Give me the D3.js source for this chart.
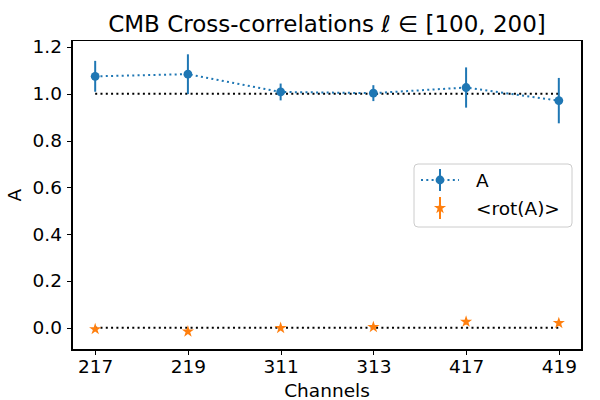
<!DOCTYPE html>
<html>
<head>
    <script src="https://d3js.org/d3.v7.min.js"></script>
    <style type="text/css">
        body { margin: 0; background: white; font-family: "DejaVu Sans", sans-serif; }
        .axis path, .axis line { stroke: black; shape-rendering: crispEdges; }
        .axis text { font-family: "DejaVu Sans", sans-serif; font-size: 18.5px; fill: #000; }
    </style>
</head>
<body>
    <svg width="600" height="400" id="chart"></svg>
    <script>
        // channels on the x axis
        var channels = ["217", "219", "311", "313", "417", "419"];
        // A with its error bars
        var aValues = [1.075, 1.084, 1.008, 1.003, 1.027, 0.971];
        var aErrors = [0.066, 0.085, 0.036, 0.034, 0.086, 0.097];
        // <rot(A)> with its error bars
        var rotValues = [-0.006, -0.016, -0.001, 0.003, 0.026, 0.020];
        var rotErrors = [0.008, 0.008, 0.006, 0.007, 0.012, 0.012];
        var yTicks = [0.0, 0.2, 0.4, 0.6, 0.8, 1.0, 1.2];
        var refLevels = [1.0, 0.0];

        var blue = "#1f77b4", orange = "#ff7f0e";
        var margin = { top: 40.5, right: 18, bottom: 50, left: 72 },
            width = 600 - margin.left - margin.right,
            height = 400 - margin.top - margin.bottom;

        var svg = d3.select("#chart")
            .append("g")
            .attr("transform", "translate(" + margin.left + "," + margin.top + ")");

        var xScale = d3.scalePoint().domain(channels).range([0, width]).padding(0.25);
        var yScale = d3.scaleLinear().domain([-0.095, 1.228]).range([height, 0]);

        // reference levels at 1 and 0
        refLevels.forEach(function(v) {
            svg.append("line")
                .attr("x1", xScale(channels[0]))
                .attr("x2", xScale(channels[channels.length - 1]))
                .attr("y1", yScale(v)).attr("y2", yScale(v))
                .attr("stroke", "black")
                .attr("stroke-width", 2)
                .attr("stroke-dasharray", "2,3.3");
        });

        var aData = channels.map(function(c, i) { return { c: c, v: aValues[i], e: aErrors[i] }; });
        var rotData = channels.map(function(c, i) { return { c: c, v: rotValues[i], e: rotErrors[i] }; });

        // dotted line joining the A points
        svg.append("path")
            .datum(aData)
            .attr("fill", "none")
            .attr("stroke", blue)
            .attr("stroke-width", 2)
            .attr("stroke-dasharray", "2,3.3")
            .attr("d", d3.line()
                .x(function(d) { return xScale(d.c); })
                .y(function(d) { return yScale(d.v); }));

        function errorBars(data, color) {
            svg.selectAll(null)
                .data(data)
                .enter()
                .append("line")
                    .attr("x1", function(d) { return xScale(d.c); })
                    .attr("x2", function(d) { return xScale(d.c); })
                    .attr("y1", function(d) { return yScale(d.v - d.e); })
                    .attr("y2", function(d) { return yScale(d.v + d.e); })
                    .attr("stroke", color)
                    .attr("stroke-width", 2);
        }
        errorBars(aData, blue);
        errorBars(rotData, orange);

        svg.selectAll("circle.a")
            .data(aData)
            .enter()
            .append("circle")
                .attr("class", "a")
                .attr("cx", function(d) { return xScale(d.c); })
                .attr("cy", function(d) { return yScale(d.v); })
                .attr("r", 4.4)
                .attr("fill", blue);

        var star = d3.symbol().type(d3.symbolStar).size(46);
        svg.selectAll("path.rot")
            .data(rotData)
            .enter()
            .append("path")
                .attr("class", "rot")
                .attr("d", star)
                .attr("transform", function(d) { return "translate(" + xScale(d.c) + "," + yScale(d.v) + ")"; })
                .attr("fill", orange);

        // axes
        svg.append("g")
            .attr("class", "axis")
            .attr("transform", "translate(0," + height + ")")
            .call(d3.axisBottom(xScale).tickSizeOuter(0).tickSize(5).tickPadding(5))
            .select(".domain").remove();

        svg.append("g")
            .attr("class", "axis")
            .call(d3.axisLeft(yScale).tickValues(yTicks).tickFormat(d3.format(".1f")).tickSize(5).tickPadding(5))
            .select(".domain").remove();

        svg.append("rect")
            .attr("width", width).attr("height", height)
            .attr("fill", "none").attr("stroke", "black")
            .attr("stroke-width", 1.1)
            .attr("shape-rendering", "crispEdges");

        svg.append("text")
            .attr("x", width / 2).attr("y", height + 47)
            .attr("text-anchor", "middle")
            .style("font-size", "18.5px")
            .text("Channels");

        svg.append("text")
            .attr("transform", "translate(" + (-51) + "," + (height / 2) + ") rotate(-90)")
            .attr("text-anchor", "middle")
            .style("font-size", "18.5px")
            .text("A");

        svg.append("text")
            .attr("x", width / 2).attr("y", -9)
            .attr("text-anchor", "middle")
            .style("font-size", "23px")
            .text("CMB Cross-correlations ℓ ∈ [100, 200]");

        // legend
        var lx = 342, ly = 123.5;
        var legend = svg.append("g").attr("transform", "translate(" + lx + "," + ly + ")");
        legend.append("rect")
            .attr("width", 158).attr("height", 63)
            .attr("rx", 4)
            .attr("fill", "white").attr("fill-opacity", 0.8)
            .attr("stroke", "#cccccc");

        legend.append("line")
            .attr("x1", 7).attr("x2", 45).attr("y1", 16).attr("y2", 16)
            .attr("stroke", blue).attr("stroke-width", 2).attr("stroke-dasharray", "2,3.3");
        legend.append("line")
            .attr("x1", 26).attr("x2", 26).attr("y1", 5).attr("y2", 27)
            .attr("stroke", blue).attr("stroke-width", 2);
        legend.append("circle")
            .attr("cx", 26).attr("cy", 16).attr("r", 4.4).attr("fill", blue);
        legend.append("text")
            .attr("x", 62).attr("y", 22.5)
            .style("font-size", "18.5px")
            .text("A");

        legend.append("line")
            .attr("x1", 26).attr("x2", 26).attr("y1", 33).attr("y2", 55)
            .attr("stroke", orange).attr("stroke-width", 2);
        legend.append("path")
            .attr("d", star)
            .attr("transform", "translate(26,44)")
            .attr("fill", orange);
        legend.append("text")
            .attr("x", 62).attr("y", 50.5)
            .style("font-size", "18.5px")
            .text("<rot(A)>");
    </script>
</body>
</html>
